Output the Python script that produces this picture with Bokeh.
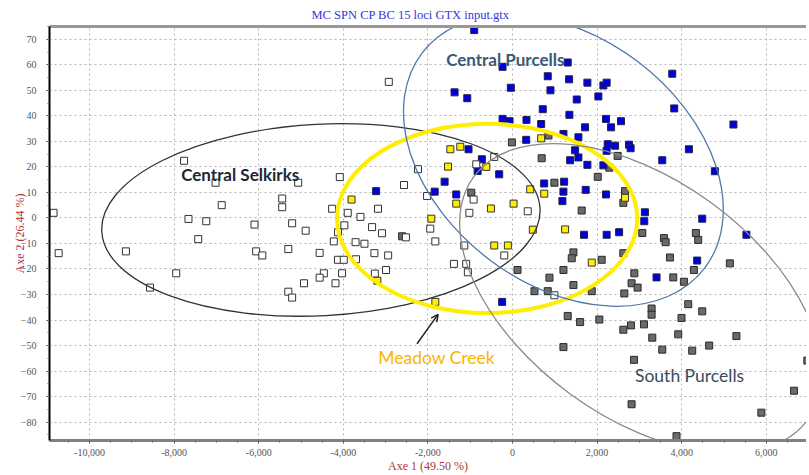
from bokeh.plotting import figure
from bokeh.embed import file_html
from bokeh.resources import INLINE
from bokeh.models import (Range1d, LinearAxis, SingleIntervalTicker, FixedTicker,
                          NumeralTickFormatter, Label, Arrow, OpenHead, ColumnDataSource)
import math

# ---------------- data ----------------
selkirks_x = [-10850, -10730, -9140, -8570, -7950, -7765, -7660, -7240, -7430, -7020,
              -6875, -6100, -6060, -5915, -5445, -5445, -5067, -5210, -4890, -5300,
              -4930, -5300, -5210, -4083, -2565, -2235, -4265, -3895, -3595, -3180,
              -3975, -4125, -3320, -3085, -4225, -3710, -3500, -2520, -1945, -1825,
              -4560, -4125, -3990, -3700, -3265, -2940, -4460, -4560, -4030, -4185,
              -3255, -2990, -1140, -1385, -1095, -1055, -195, -1020, -920, -857,
              -432, -2020, 360, 990, -2925]
selkirks_y = [2.0, -13.8, -13.1, -27.3, -21.7, 22.4, -0.4, -1.3, -8.3, 13.8,
              5.0, -2.6, -13.1, -14.7, 7.6, 4.2, 13.8, -2.1, -5.0, -12.2,
              -25.6, -28.9, -31.2, 16.0, 12.9, 19.1, 3.6, 2.0, 0.4, 3.6,
              -2.9, -5.6, -3.6, -6.0, -9.2, -9.5, -10.1, -7.6, -4.2, -9.2,
              -13.7, -16.4, -16.4, -16.2, -13.8, -14.7, -21.7, -23.4, -21.7, -25.6,
              -21.8, -20.4, -10.8, -18.0, -18.0, -21.3, -14.7, 2.0, 7.2, 21.0,
              23.9, 8.6, 2.6, -30.3, 53.3]

meadow_x = [-3805, -1470, -1235, -1525, -620, -1330, -1920, -510, 25, 418,
            750, 480, -432, -110, -3195, -1825, 677, 2660, 1243, 1873]
meadow_y = [7.2, 26.9, 27.9, 20.1, 20.0, 5.6, -0.3, 3.7, 5.6, 11.2,
            9.5, -4.6, -10.8, -10.8, -24.6, -32.9, 31.2, 7.9, -4.5, -17.5]

cpurcells_x = [-3225, -1840, -1605, -1330, -1040, -725, -825, -315, -245, -235,
               -70, 330, 677, 323, 748, -905, -236, -1370, -1070, -40,
               833, 897, 715, 1305, 1338, 1770, 2148, 2225, 1518, 2030,
               1345, 2210, 2565, 2330, 1715, 1204, 1558, 3776, 3823, 5223,
               4170, 4784, 3540, 1480, 1362, 1558, 2250, 2425, 2225, 2754,
               2792, 1770, 2148, 1220, 1204, 1180, 1730, 2210, 3130, 3115,
               4485, 5530, 1690, 2225, 2520, 4365, 3405]
cpurcells_y = [10.5, 10.3, 14.2, 9.2, 26.9, 23.0, 18.4, 17.1, -32.9, 38.8,
               37.9, 38.4, 36.8, 30.6, 13.5, 73.6, 59.2, 49.2, 46.9, 51.0,
               55.5, 50.0, 42.6, 60.9, 54.3, 53.0, 51.9, 53.0, 46.4, 47.6,
               40.4, 38.8, 37.9, 35.5, 35.5, 32.9, 31.6, 56.5, 42.9, 36.6,
               26.9, 18.3, 22.6, 26.5, 22.6, 23.7, 28.9, 28.3, 26.3, 28.7,
               27.3, 20.8, 20.6, 14.2, 10.3, 6.6, 11.0, 9.2, 2.2, -1.3,
               -0.3, -6.6, -6.6, -6.6, -5.6, -16.7, -23.3]

spurcells_x = [-2610, -975, -15, 690, 990, 118, 873, 520, 833, 850,
               2485, 2290, 2015, 2660, 2620, 1635, 3068, 3580, 4335, 3620,
               4390, 1440, 1400, 2108, 2620, 3722, 5138, 1204, 1440, 1873,
               2880, 2815, 2957, 2643, 3800, 4052, 4288, 4154, 4485, 3288,
               3288, 1305, 1598, 2053, 3995, 2800, 2620, 3108, 3304, 3918,
               4649, 5293, 1204, 3540, 4248, 2872, 6970, 6655, 5883, 2815, 3877]
spurcells_y = [-7.2, 9.9, 29.6, 23.4, 13.8, -20.4, -23.4, -28.7, -28.7, 32.3,
               24.3, 19.7, 16.1, 10.5, 5.9, 2.9, -5.9, -7.9, -5.9, -9.5,
               -8.6, -13.5, -15.8, -16.4, -13.8, -15.5, -17.8, -20.4, -26.3, -28.7,
               -21.7, -25.6, -27.3, -29.6, -23.3, -25.0, -20.4, -33.8, -36.6, -35.5,
               -37.9, -38.4, -40.8, -39.8, -39.2, -42.1, -43.8, -41.7, -46.9, -45.6,
               -50.0, -46.3, -50.6, -51.6, -52.0, -55.6, -55.9, -67.7, -76.3, -73.0, -85.5]

# confidence ellipses: centre x, centre y, width, height, angle (deg)
ell_names = ["Central Selkirks", "Meadow Creek", "Central Purcells", "South Purcells"]
ell_cx = [-4530, -600, 1203, 3030]
ell_cy = [-0.8, -0.2, 22.5, -31.5]
ell_w = [10375, 7100, 8395, 9762]
ell_h = [75.0, 74.2, 97.0, 93.1]
ell_angle = [3.0, 0.0, -37.3, -36.0]

title_text = "MC SPN CP BC 15 loci GTX input.gtx"
x_label = "Axe 1 (49.50 %)"
y_label = "Axe 2 (26.44 %)"

# ---------------- figure ----------------
p = figure(width=806, height=475, output_backend="svg", toolbar_location=None,
           x_range=Range1d(-10946, 6950), y_range=Range1d(-87.2, 75.0))
p.min_border = 0
p.min_border_left = 49
p.min_border_right = 0
p.min_border_top = 26
p.min_border_bottom = 34
p.outline_line_color = None
p.background_fill_color = "white"
p.border_fill_color = "white"

p.title.text = title_text
p.title.align = "left"
p.title.offset = 262
p.title.standoff = 9
p.title.text_font = "Liberation Serif"
p.title.text_font_style = "normal"
p.title.text_font_size = "12.5px"
p.title.text_color = "#3535e0"

xt = SingleIntervalTicker(interval=2000, num_minor_ticks=4)
yt = SingleIntervalTicker(interval=10, num_minor_ticks=2)
xa = p.xaxis[0]
ya = p.yaxis[0]
xa.ticker = xt
ya.ticker = yt
xa.formatter = NumeralTickFormatter(format="0,0")
for ax in (xa, ya):
    ax.major_label_text_font = "Liberation Serif"
    ax.major_label_text_font_size = "10px"
    ax.major_label_text_color = "#555555"
    ax.axis_label_text_font = "Liberation Serif"
    ax.axis_label_text_font_size = "12px"
    ax.axis_label_text_font_style = "normal"
    ax.axis_label_text_color = "#b03535"
    ax.major_tick_in = 0
    ax.major_tick_out = 3
    ax.minor_tick_in = 0
    ax.minor_tick_out = 2
    ax.major_tick_line_color = "#444444"
    ax.minor_tick_line_color = "#666666"
xa.axis_label = x_label
ya.axis_label = y_label
xa.axis_line_color = "#808080"
xa.axis_line_width = 3
ya.axis_line_color = "#000000"
ya.axis_line_width = 2
xa.major_label_standoff = 5
xa.axis_label_standoff = 0
ya.major_label_standoff = 10
ya.axis_label_standoff = -9

top = LinearAxis(ticker=FixedTicker(ticks=[]), axis_line_color="#999999", axis_line_width=3,
                 major_tick_line_color=None, minor_tick_line_color=None)
p.add_layout(top, "above")

for g in (p.xgrid[0], p.ygrid[0]):
    g.grid_line_color = "#b5b5b5"
    g.grid_line_dash = "2 3"
    g.grid_line_width = 1
p.xgrid[0].ticker = xt
p.ygrid[0].ticker = yt

# points
p.scatter(spurcells_x, spurcells_y, marker="square", size=7, fill_color="#6a6a6a", line_color="#2a2a2a")
p.scatter(cpurcells_x, cpurcells_y, marker="square", size=7, fill_color="#0000dd", line_color="#222244")
p.scatter(selkirks_x, selkirks_y, marker="square", size=7, fill_color="white", line_color="#333333")
p.scatter(meadow_x, meadow_y, marker="square", size=7, fill_color="#ffee00", line_color="#333333")

# ellipses
ell_src = ColumnDataSource(dict(x=ell_cx, y=ell_cy, w=ell_w, h=ell_h,
                                a=[math.radians(v) for v in ell_angle],
                                c=["#333333", "#ffee00", "#4f79aa", "#8a8a8a"],
                                lw=[1.3, 4, 1.3, 1.3]))
p.ellipse(x="x", y="y", width="w", height="h", angle="a", source=ell_src,
          fill_color=None, line_color="c", line_width="lw")

# labels
p.add_layout(Label(x=-170, y=61.9, text="Central Purcells", text_font="Lato", text_font_style="bold",
                   text_font_size="17px", text_color="#3b5878", text_align="center", text_baseline="middle"))
p.add_layout(Label(x=-6437, y=17.0, text="Central Selkirks", text_font="Lato", text_font_style="bold",
                   text_font_size="17px", text_color="#1c2836", text_align="center", text_baseline="middle"))
p.add_layout(Label(x=-1792, y=-54.8, text="Meadow Creek", text_font="Lato", text_font_style="normal",
                   text_font_size="17.5px", text_color="#f7b500", text_align="center", text_baseline="middle"))
p.add_layout(Label(x=4185, y=-61.9, text="South Purcells", text_font="Lato", text_font_style="normal",
                   text_font_size="17.5px", text_color="#3a4a5c", text_align="center", text_baseline="middle"))
p.add_layout(Arrow(x_start=-2257, y_start=-49.3, x_end=-1761, y_end=-37.8,
                   line_color="#222222", line_width=1.5,
                   end=OpenHead(size=7, line_color="#222222", line_width=1.5)))

open("out.html", "w").write(file_html(p, INLINE))
